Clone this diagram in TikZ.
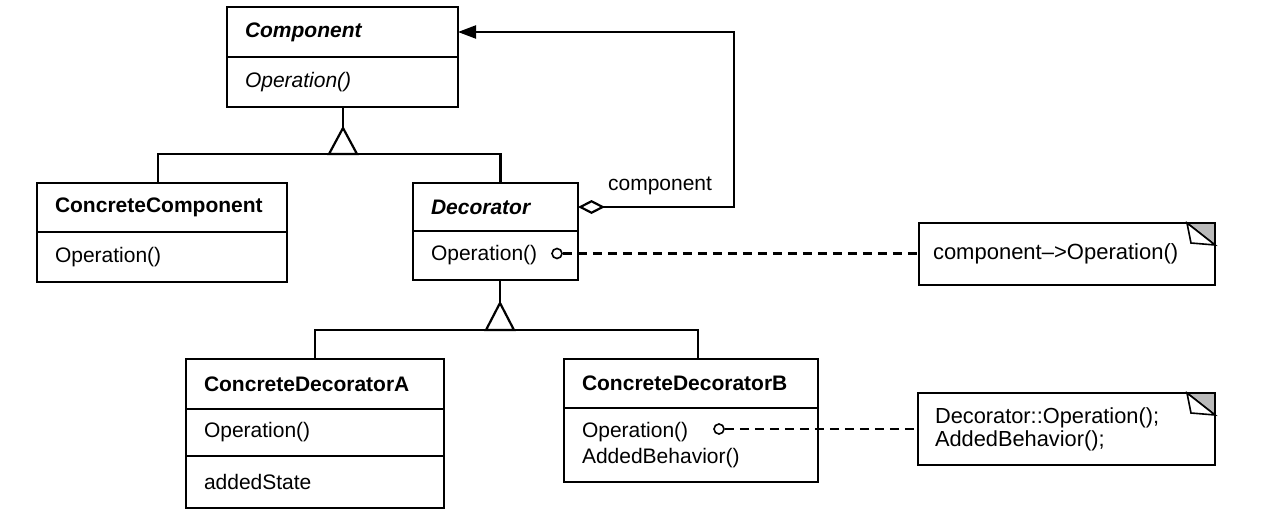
\documentclass[tikz,border=0pt]{standalone}
\usepackage{fontspec}
\setmainfont{Liberation Sans}
\usetikzlibrary{arrows.meta}
\begin{document}
\begin{tikzpicture}[x=1pt,y=-1pt, line width=2.2pt,
  every node/.style={font=\fontsize{21}{26}\selectfont},
  cell/.style={draw, anchor=north west, outer sep=0pt, inner ysep=0pt, inner xsep=18pt, align=left},
  notebox/.style={draw, anchor=north west, outer sep=0pt, inner ysep=0pt, align=left},
  dot/.style={draw, circle, line width=1.6pt, minimum size=10pt, inner sep=0pt},
  dashln/.style={line width=2.2pt, dash pattern=on 9pt off 6pt},
  lbl/.style={inner sep=0pt}]
\useasboundingbox (0,0) rectangle (1264,516);
\fill[white] (0,0) rectangle (1264,516);

% Component
\node[cell, text width=195pt, minimum height=50pt] (compH) at (227,7) {\bfseries\itshape Component};
\node[cell, text width=195pt, minimum height=50pt] (compB) at (compH.south west) {\itshape Operation()};

% ConcreteComponent
\node[cell, text width=214pt, minimum height=49pt] (ccH) at (37,183) {\bfseries ConcreteComponent};
\node[cell, text width=214pt, minimum height=50pt] (ccB) at (ccH.south west) {Operation()};

% Decorator
\node[cell, text width=129pt, minimum height=48pt] (decH) at (413,183) {\bfseries\itshape Decorator};
\node[cell, text width=129pt, minimum height=49pt] (decB) at (decH.south west) {Operation()};

% ConcreteDecoratorA
\node[cell, text width=222pt, minimum height=50pt] (cdaH) at (186,359) {\bfseries ConcreteDecoratorA};
\node[cell, text width=222pt, minimum height=47pt] (cdaB) at (cdaH.south west) {Operation()};
\node[cell, text width=222pt, minimum height=52pt] (cdaC) at (cdaB.south west) {addedState};

% ConcreteDecoratorB
\node[cell, text width=218pt, minimum height=49pt] (cdbH) at (564,359) {\bfseries ConcreteDecoratorB};
\node[cell, text width=218pt, minimum height=74pt] (cdbB) at (cdbH.south west) {Operation()\\AddedBehavior()};

% Notes
\node[notebox, inner xsep=14pt, text width=268pt, minimum height=62pt, font=\fontsize{22}{24}\selectfont] (note1) at (919,223) {component\textendash>Operation()};
\node[notebox, inner xsep=17pt, text width=263pt, minimum height=72pt, font=\fontsize{21.8}{23}\selectfont] (note2) at (918,393) {Decorator::Operation();\\AddedBehavior();};

\foreach \n in {note1,note2}{
  \filldraw[fill=gray!55, line width=1.6pt] ([xshift=-28pt]\n.north east) -- (\n.north east) -- ([yshift=-22pt]\n.north east) -- cycle;
  \filldraw[fill=white, line width=1.6pt] ([xshift=-28pt]\n.north east) -- ([xshift=-24pt,yshift=-20pt]\n.north east) -- ([yshift=-22pt]\n.north east) -- cycle;
}

% inheritance 1
\coordinate (apex1) at (343,128);
\coordinate (bar1) at (343,154);
\draw (apex1 |- compB.south) -- (apex1);
\draw ([xshift=-4pt]ccH.north) |- (bar1) -| ([xshift=5pt]decH.north);
\draw[fill=white, line join=miter] (apex1) -- ++(-14,26) -- ++(28,0) -- cycle;

% inheritance 2
\coordinate (apex2) at (500,303);
\coordinate (bar2) at (500,330);
\draw (apex2 |- decB.south) -- (apex2);
\draw (cdaH.north) |- (bar2) -| ([xshift=7pt]cdbH.north);
\draw[fill=white, line join=miter] (apex2) -- ++(-14,27) -- ++(28,0) -- cycle;

% aggregation
\coordinate (bend) at ([xshift=156pt]decH.east);
\draw[{Diamond[open,length=27pt,width=14pt]}-{Triangle[length=18pt,width=13pt]}] (decH.east) -- (bend) |- (compH.east);
\node[lbl, anchor=south west] (aggl) at ([xshift=29pt,yshift=11pt]decH.east) {component};

% note links
\node[dot] (c1) at ([xshift=-21pt,yshift=2pt]decB.east) {};
\draw[dashln] (c1) -- (c1 -| note1.west);
\node[dot] (c2) at ([xshift=-99pt,yshift=16pt]cdbB.east) {};
\draw[dashln] (c2) -- (c2 -| note2.west);
\end{tikzpicture}
\end{document}
